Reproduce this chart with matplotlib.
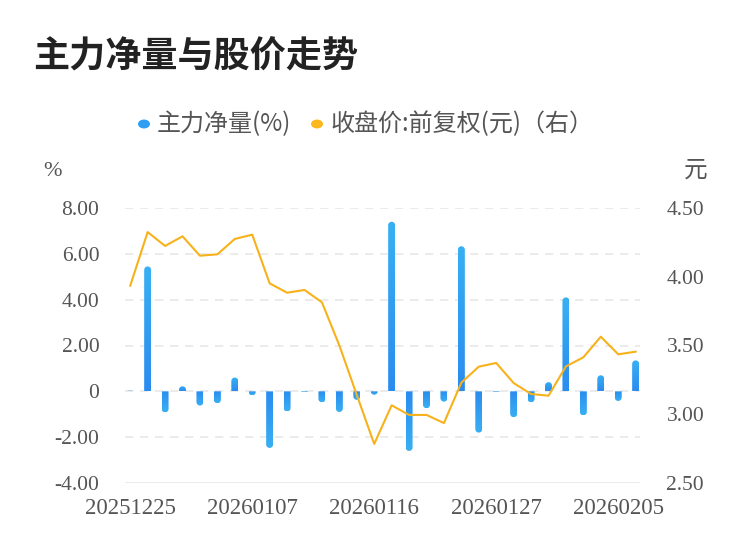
import matplotlib
matplotlib.use("Agg")
import matplotlib.pyplot as plt
import numpy as np
from matplotlib.patches import PathPatch, Circle
from matplotlib.path import Path

plt.rcParams['font.family'] = ['Noto Sans CJK SC', 'DejaVu Sans']

dates = ["20251225", "20251226", "20251229", "20251230", "20251231",
         "20260105", "20260106", "20260107", "20260108", "20260109",
         "20260112", "20260113", "20260114", "20260115", "20260116",
         "20260119", "20260120", "20260121", "20260122", "20260123",
         "20260126", "20260127", "20260128", "20260129", "20260130",
         "20260202", "20260203", "20260204", "20260205", "20260206"]
net_flow = [0.03, 5.45, -0.92, 0.22, -0.62, -0.52, 0.60, -0.18, -2.47, -0.88,
            -0.05, -0.48, -0.90, -0.37, -0.15, 7.40, -2.60, -0.74, -0.45, 6.33,
            -1.80, -0.05, -1.13, -0.48, 0.40, 4.10, -1.05, 0.70, -0.42, 1.35]
close_price = [3.935, 4.325, 4.224, 4.294, 4.153, 4.163, 4.275, 4.306, 3.952, 3.884,
               3.904, 3.814, 3.500, 3.140, 2.784, 3.065, 2.995, 2.995, 2.936, 3.230,
               3.346, 3.373, 3.227, 3.147, 3.135, 3.348, 3.414, 3.564, 3.436, 3.455]
label_idx = [0, 7, 14, 21, 28]
left_ticks = [-4, -2, 0, 2, 4, 6, 8]
left_labels = ["-4.00", "-2.00", "0", "2.00", "4.00", "6.00", "8.00"]
right_ticks = [2.5, 3.0, 3.5, 4.0, 4.5]
right_labels = ["2.50", "3.00", "3.50", "4.00", "4.50"]

W, H = 750, 558
fig = plt.figure(figsize=(7.5, 5.58), dpi=100)
ax_l, ax_b, ax_r, ax_t = 125 / W, 1 - 483 / H, 640 / W, 1 - 208 / H
ax = fig.add_axes([ax_l, ax_b, ax_r - ax_l, ax_t - ax_b])
ax2 = ax.twinx()

xlo, xhi = -0.3, 29.25
ylo, yhi = -4, 8
ax.set_xlim(xlo, xhi)
ax.set_ylim(ylo, yhi)
ax2.set_ylim(2.5, 4.5)

# grid lines
for t in left_ticks:
    if t == ylo:
        ax.axhline(t, color="#e8e8e8", lw=1.2, zorder=0)
    else:
        ax.axhline(t, color="#e8e8e8", lw=1.2, ls=(0, (5, 4)), zorder=0)

# bars with gradient and rounded tip
x = np.arange(len(dates))
bw = 0.40
px_x = (xhi - xlo) / (640 - 125)
px_y = (yhi - ylo) / (483 - 208)
aspect = px_y / px_x
c_base = np.array([0x2a, 0x8c, 0xef]) / 255
c_tip = np.array([0x38, 0xb0, 0xf3]) / 255


def bar_path(xc, v, w):
    s = 1 if v >= 0 else -1
    rx = w / 2
    ry = min(rx * aspect, abs(v))
    yend = v - s * ry
    verts = [(xc - rx, 0.0), (xc - rx, yend)]
    for th in np.linspace(np.pi, 0, 16):
        verts.append((xc + rx * np.cos(th), yend + s * ry * np.sin(th)))
    verts += [(xc + rx, 0.0), (xc - rx, 0.0)]
    codes = [Path.MOVETO] + [Path.LINETO] * (len(verts) - 2) + [Path.CLOSEPOLY]
    return Path(verts, codes)


for xi, v in zip(x, net_flow):
    if v == 0:
        continue
    grad = np.linspace(0, 1, 64)[:, None, None]
    img = c_base + (c_tip - c_base) * grad
    img = np.repeat(img, 2, axis=1)
    lo, hi = (0, v) if v > 0 else (v, 0)
    origin = 'lower' if v > 0 else 'upper'
    patch = PathPatch(bar_path(xi, v, bw), transform=ax.transData,
                      facecolor='none', edgecolor='none')
    ax.add_patch(patch)
    im = ax.imshow(img, extent=[xi - bw / 2, xi + bw / 2, lo, hi], origin=origin,
                   aspect='auto', zorder=2, interpolation='bilinear')
    im.set_clip_path(patch)
ax.set_xlim(xlo, xhi)
ax.set_ylim(ylo, yhi)

ax2.plot(x, close_price, color="#f7b21b", lw=1.5, zorder=5)

num_font = dict(family=['Liberation Serif', 'DejaVu Serif'], size=15.5, color="#555555")
ax.set_yticks(left_ticks)
ax.set_yticklabels(left_labels, **num_font)
ax2.set_yticks(right_ticks)
ax2.set_yticklabels(right_labels, **num_font)
ax.set_xticks(label_idx)
ax.set_xticklabels([dates[i] for i in label_idx],
                   family=['Liberation Serif', 'DejaVu Serif'], size=16.5, color="#555555")
ax.tick_params(axis='y', length=0, pad=18.5)
ax2.tick_params(axis='y', length=0, pad=19)
ax.tick_params(axis='x', length=0, pad=11)
for a in (ax, ax2):
    for s in a.spines.values():
        s.set_visible(False)
ax.set_zorder(ax2.get_zorder() - 1)
ax.patch.set_visible(False)
ax2.patch.set_visible(False)

# title
fig.text(33 / W, 1 - 57 / H, "主力净量与股价走势", fontsize=26, fontweight='bold',
         color="#222222", va='center', ha='left')
# legend
ly = 1 - 124 / H
fig.patches.append(Circle((144 / W, ly), 6 / W, transform=fig.transFigure,
                          facecolor="#2e9ef2", edgecolor='none'))
fig.text(157 / W, ly, "主力净量(%)", fontsize=17.3, color="#555555", va='center', ha='left')
fig.patches.append(Circle((317 / W, ly), 6 / W, transform=fig.transFigure,
                          facecolor="#fbb81e", edgecolor='none'))
fig.text(330 / W, ly, "收盘价:前复权(元)（右）", fontsize=17.3, color="#555555",
         va='center', ha='left')
# units
fig.text(52 / W, 1 - 172 / H, "%", fontsize=16, color="#555555", va='center', ha='center',
         family=['Liberation Serif', 'DejaVu Serif'])
fig.text(696 / W, 1 - 170 / H, "元", fontsize=17, color="#555555", va='center', ha='center')

fig.savefig("out.png", dpi=100, facecolor='white')
